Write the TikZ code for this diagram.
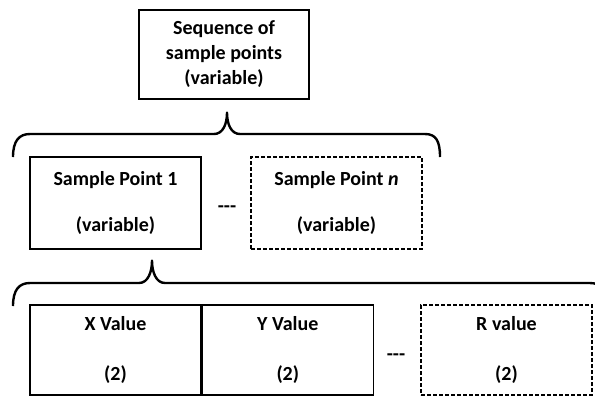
\documentclass[tikz,border=0pt]{standalone}
\usepackage{fontspec}
\setmainfont{Carlito}
\usetikzlibrary{calc,positioning}

\begin{document}
\begin{tikzpicture}[x=1bp,y=-1bp,
    font=\fontsize{20bp}{25bp}\selectfont\bfseries,
    field/.style={draw,line width=1.3bp,minimum width=171bp,minimum height=92bp,
      align=center,inner sep=0pt},
    optional/.style={field,dash pattern=on 4bp off 2bp},
    brace/.style={line width=2.4bp,line join=round},
    gap/.style={inner sep=0pt}
  ]
  \useasboundingbox (0,0) rectangle (595,396);

  \node[field,minimum width=170bp,minimum height=89bp] (seq) at (224,54.5)
    {Sequence of\\sample points\\(variable)};

  \node[field]    (point1) at (115.5,203) {Sample Point 1\\[21bp](variable)};
  \node[optional] (pointn) at (336.5,203) {Sample Point \textit{n}\\[21bp](variable)};
  \node[gap]      (dotsa)  at (227,209)   {-{}-{}-};

  \node[field,minimum height=90bp] (xval) at (115.5,350) {X Value\\[25bp](2)};
  \node[field,minimum height=90bp,right=0pt of xval] (yval) {Y Value\\[25bp](2)};
  \node[optional,minimum height=90bp] (rval) at (506.5,350) {R value\\[25bp](2)};
  \node[gap]      (dotsb)  at (396,357)   {-{}-{}-};

  \coordinate (tipa) at ($(seq.south)+(3,13)$);
  \coordinate (tipb) at ($(point1.south)+(36.5,11)$);

  \draw[brace] (13,157) .. controls (13,141) and (19,134) .. (30,134) -- (214,134)
    .. controls (223,134) and (227,124) .. (tipa)
    .. controls (227,124) and (231,134) .. (240,134) -- (425,134)
    .. controls (436,134) and (440,141) .. (440,157);
  \draw[brace] (13,306) .. controls (13,290) and (19,283) .. (30,283) -- (139,283)
    .. controls (148,283) and (152,272) .. (tipb)
    .. controls (152,272) and (156,283) .. (165,283) -- (590,283)
    .. controls (601,283) and (605,290) .. (605,306);
\end{tikzpicture}
\end{document}
